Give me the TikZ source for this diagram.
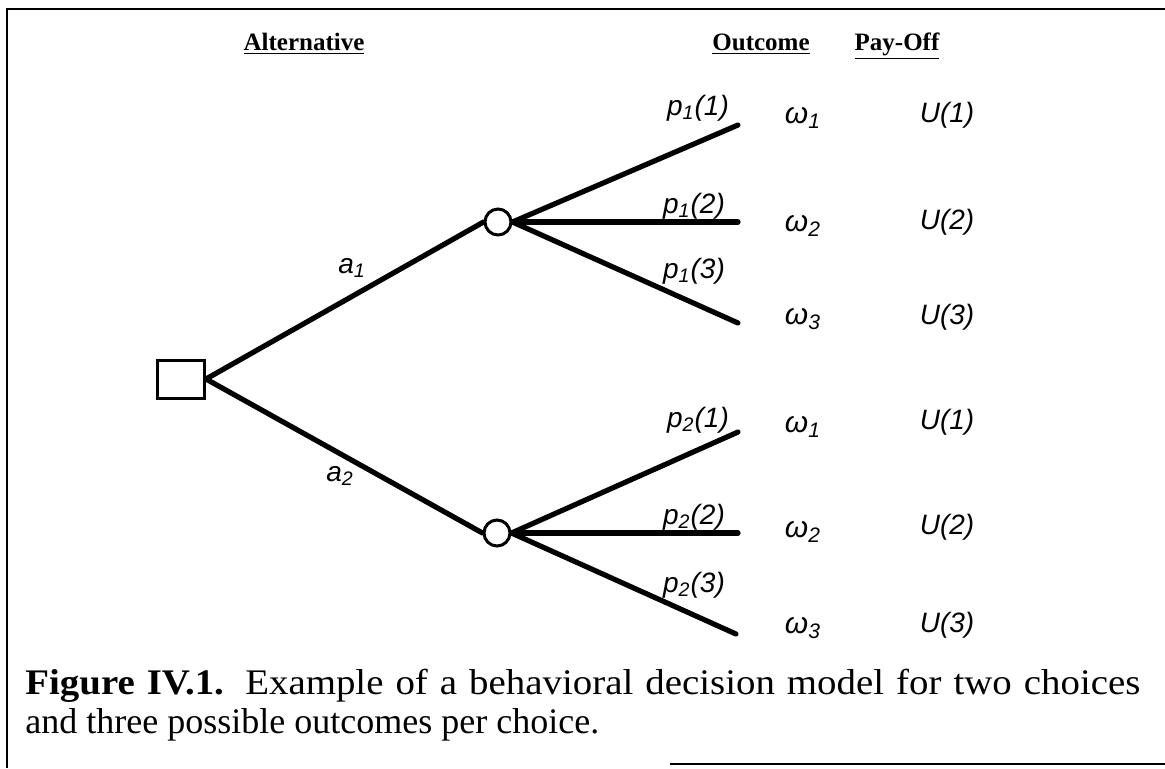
\documentclass[tikz,border=0pt]{standalone}
\usepackage{fontspec}
\setmainfont{Liberation Serif}
\newfontfamily\labelfont{Liberation Sans}
\begin{document}
\begin{tikzpicture}[x=0.5pt,y=-0.5pt,
  branch/.style={line width=2.6pt, line cap=round},
  decision/.style={draw, line width=1.5pt, minimum width=23.5pt, minimum height=19pt, inner sep=0pt},
  chance/.style={draw, circle, line width=1.5pt, minimum size=13pt, inner sep=0pt, fill=white},
  head/.style={font=\fontsize{12.5}{15}\selectfont\bfseries, anchor=base, inner sep=0pt},
  prob/.style={font=\labelfont\fontsize{14}{16}\selectfont\itshape, inner sep=0pt},
  outc/.style={font=\labelfont\fontsize{15}{17}\selectfont\itshape, inner sep=0pt},
  pay/.style={font=\labelfont\fontsize{14}{16}\selectfont\itshape, inner sep=0pt},
  captext/.style={font=\fontsize{18}{21}\selectfont, anchor=base west, inner sep=0pt},
  frame/.style={line width=1.4pt}]
\useasboundingbox (0,0) rectangle (1165,768);

% page frame
\draw[frame] (1165,9) -- (7,9) -- (7,768);
\draw[frame] (670,764) -- (1165,764);

% column headings
\node[head] (hAlt) at (304,50) {\underline{Alternative}};
\node[head] (hOut) at (761,50) {\underline{Outcome}};
\node[head] (hPay) at (897,50) {\underline{Pay-Off}};

% decision and chance nodes
\node[decision] (d) at (181,379) {};
\node[chance] (c1) at (498,222) {};
\node[chance] (c2) at (497,533) {};

% branch end points
\coordinate (e11) at (738,125);
\coordinate (e12) at (738,222);
\coordinate (e13) at (738,323);
\coordinate (e21) at (738,432);
\coordinate (e22) at (738,533);
\coordinate (e23) at (736,634);

% alternatives
\draw[branch] (d.east) -- (c1.west);
\draw[branch] (d.east) -- (c2.west);

% outcome branches
\draw[branch] (c1.east) -- (e11);
\draw[branch] (c1.east) -- (e12);
\draw[branch] (c1.east) -- (e13);
\draw[branch] (c2.east) -- (e21);
\draw[branch] (c2.east) -- (e22);
\draw[branch] (c2.east) -- (e23);

% branch labels
\node[prob] (la1) at (352,268) {a\textsubscript{1}};
\node[prob] (la2) at (340,476) {a\textsubscript{2}};

\node[prob] (l11) at (698,108) {p\textsubscript{1}(1)};
\node[prob] (l12) at (694,206) {p\textsubscript{1}(2)};
\node[prob] (l13) at (694,271) {p\textsubscript{1}(3)};
\node[prob] (l21) at (698,420) {p\textsubscript{2}(1)};
\node[prob] (l22) at (694,517) {p\textsubscript{2}(2)};
\node[prob] (l23) at (694,585) {p\textsubscript{2}(3)};

% outcomes
\node[outc] (o11) at (803,118) {ω\textsubscript{1}};
\node[outc] (o12) at (803,226) {ω\textsubscript{2}};
\node[outc] (o13) at (803,319) {ω\textsubscript{3}};
\node[outc] (o21) at (803,427) {ω\textsubscript{1}};
\node[outc] (o22) at (803,532) {ω\textsubscript{2}};
\node[outc] (o23) at (803,628) {ω\textsubscript{3}};

% pay-offs
\node[pay] (u11) at (947,115) {U(1)};
\node[pay] (u12) at (947,222) {U(2)};
\node[pay] (u13) at (947,317) {U(3)};
\node[pay] (u21) at (947,422) {U(1)};
\node[pay] (u22) at (947,527) {U(2)};
\node[pay] (u23) at (947,625) {U(3)};

% caption, first line set full measure
\node[captext] (cap1) at (25,694)
  {\scalebox{1.08}[1]{\makebox[516.2pt][s]{\textbf{Figure IV.1.}\hspace{0.55em}Example of a behavioral decision model for two choices}}};
\node[captext] (cap2) at (25,733)
  {and three possible outcomes per choice.};
\end{tikzpicture}
\end{document}
